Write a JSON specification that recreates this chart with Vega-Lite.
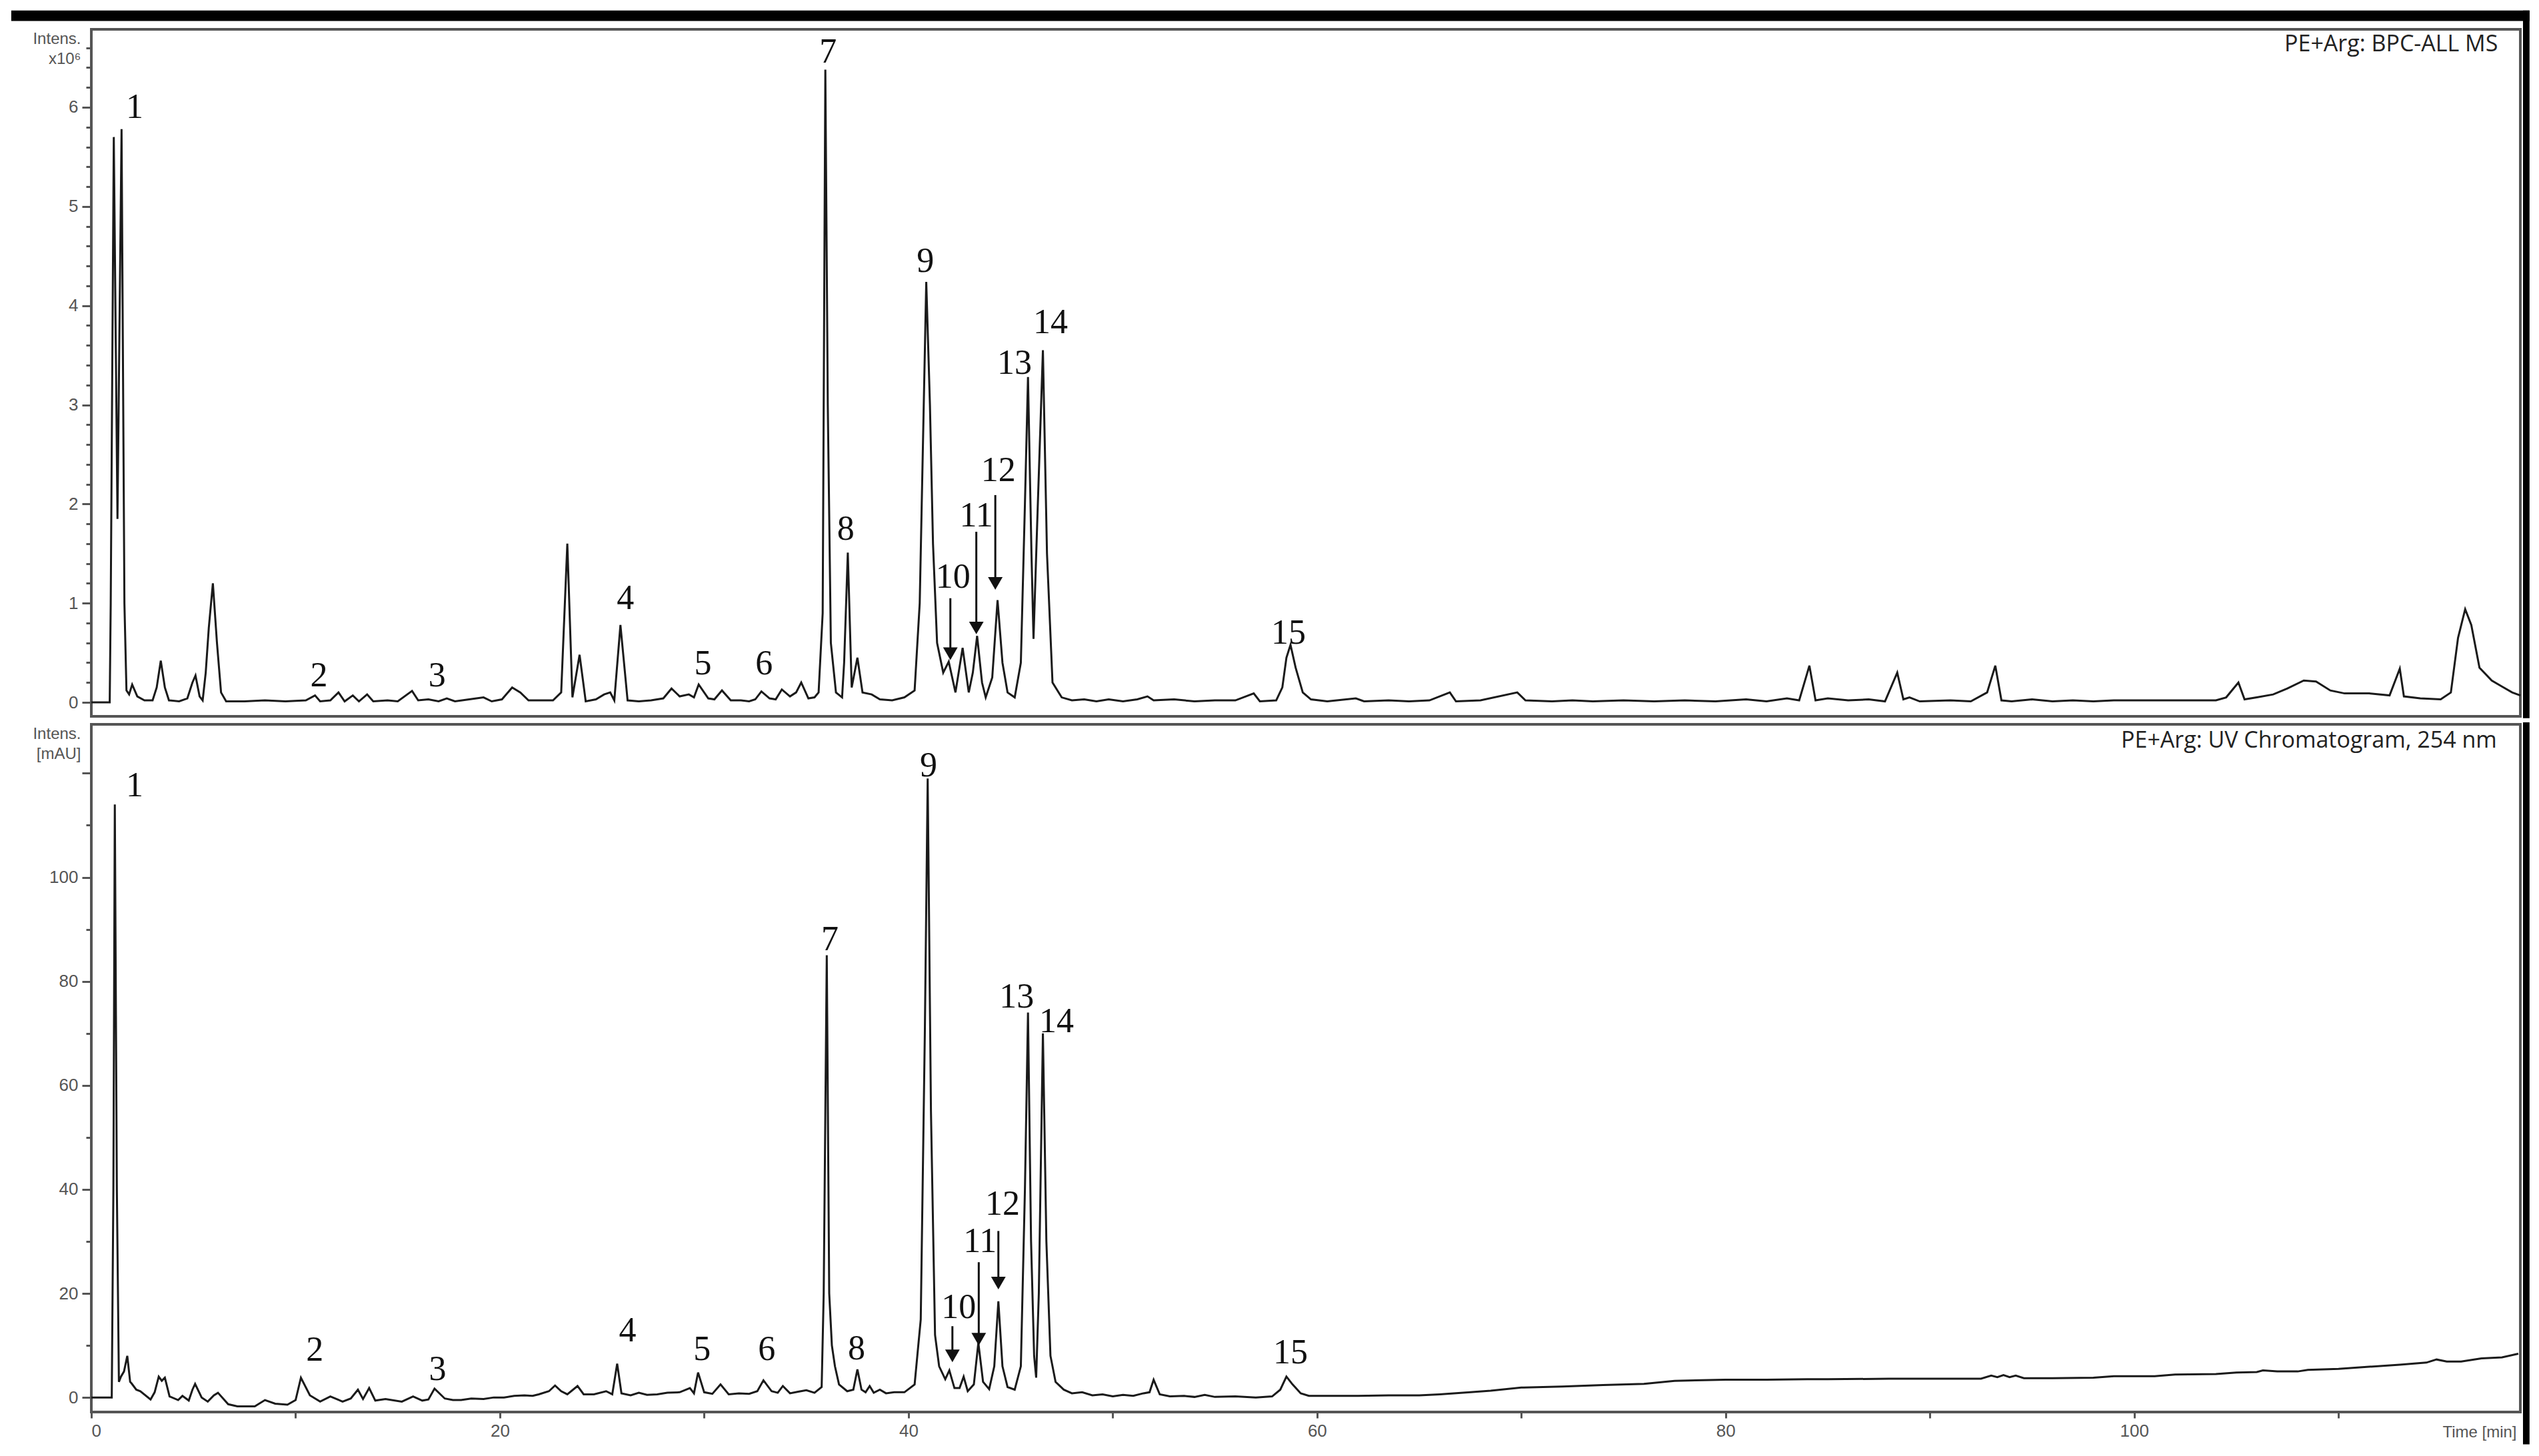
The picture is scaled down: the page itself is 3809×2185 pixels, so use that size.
{
  "$schema": "https://vega.github.io/schema/vega-lite/v6.json",
  "background": "white",
  "padding": {"left": 14, "top": 13, "right": 17, "bottom": 28},
  "spacing": 1,
  "datasets": {
    "ms": [
      {"t":0,"v":0},{"t":0.5,"v":0},{"t":0.9,"v":0},{"t":0.95,"v":1.0},{"t":1.1,"v":5.7},{"t":1.28,"v":1.85},{"t":1.48,"v":5.78},{"t":1.62,"v":1.0},{"t":1.72,"v":0.12},{"t":1.85,"v":0.08},{"t":2.0,"v":0.18},{"t":2.25,"v":0.06},{"t":2.6,"v":0.02},{"t":3.0,"v":0.02},{"t":3.2,"v":0.15},{"t":3.4,"v":0.42},{"t":3.6,"v":0.15},{"t":3.8,"v":0.02},{"t":4.3,"v":0.01},{"t":4.7,"v":0.04},{"t":4.95,"v":0.2},{"t":5.1,"v":0.27},{"t":5.3,"v":0.06},{"t":5.45,"v":0.02},{"t":5.6,"v":0.3},{"t":5.75,"v":0.75},{"t":5.95,"v":1.2},{"t":6.15,"v":0.6},{"t":6.35,"v":0.1},{"t":6.6,"v":0.01},{"t":7.5,"v":0.01},{"t":8.5,"v":0.02},{"t":9.5,"v":0.01},{"t":10.5,"v":0.02},{"t":10.95,"v":0.07},{"t":11.2,"v":0.01},{"t":11.7,"v":0.02},{"t":12.1,"v":0.1},{"t":12.4,"v":0.01},{"t":12.8,"v":0.07},{"t":13.1,"v":0.01},{"t":13.5,"v":0.08},{"t":13.8,"v":0.01},{"t":14.5,"v":0.02},{"t":15.0,"v":0.01},{"t":15.7,"v":0.115},{"t":16.0,"v":0.02},{"t":16.5,"v":0.03},{"t":17.0,"v":0.01},{"t":17.4,"v":0.04},{"t":17.8,"v":0.01},{"t":18.5,"v":0.03},{"t":19.2,"v":0.05},{"t":19.6,"v":0.01},{"t":20.1,"v":0.03},{"t":20.6,"v":0.15},{"t":21.0,"v":0.1},{"t":21.4,"v":0.02},{"t":22.0,"v":0.02},{"t":22.6,"v":0.02},{"t":23.0,"v":0.1},{"t":23.3,"v":1.6},{"t":23.55,"v":0.05},{"t":23.9,"v":0.48},{"t":24.2,"v":0.01},{"t":24.7,"v":0.03},{"t":25.1,"v":0.08},{"t":25.4,"v":0.1},{"t":25.6,"v":0.02},{"t":25.9,"v":0.78},{"t":26.25,"v":0.02},{"t":26.8,"v":0.01},{"t":27.4,"v":0.02},{"t":28.0,"v":0.04},{"t":28.4,"v":0.14},{"t":28.8,"v":0.06},{"t":29.25,"v":0.08},{"t":29.5,"v":0.05},{"t":29.73,"v":0.18},{"t":30.2,"v":0.04},{"t":30.5,"v":0.03},{"t":30.87,"v":0.12},{"t":31.3,"v":0.02},{"t":31.8,"v":0.02},{"t":32.2,"v":0.01},{"t":32.5,"v":0.03},{"t":32.8,"v":0.11},{"t":33.2,"v":0.04},{"t":33.5,"v":0.03},{"t":33.8,"v":0.13},{"t":34.2,"v":0.06},{"t":34.5,"v":0.1},{"t":34.75,"v":0.2},{"t":35.1,"v":0.04},{"t":35.4,"v":0.05},{"t":35.6,"v":0.1},{"t":35.8,"v":0.9},{"t":35.93,"v":6.38},{"t":36.05,"v":3.0},{"t":36.2,"v":0.6},{"t":36.45,"v":0.1},{"t":36.75,"v":0.05},{"t":36.85,"v":0.4},{"t":37.03,"v":1.51},{"t":37.22,"v":0.15},{"t":37.5,"v":0.45},{"t":37.75,"v":0.1},{"t":38.2,"v":0.08},{"t":38.6,"v":0.03},{"t":39.2,"v":0.02},{"t":39.8,"v":0.05},{"t":40.3,"v":0.12},{"t":40.55,"v":1.0},{"t":40.87,"v":4.24},{"t":41.05,"v":3.0},{"t":41.2,"v":1.6},{"t":41.4,"v":0.6},{"t":41.7,"v":0.3},{"t":41.97,"v":0.41},{"t":42.3,"v":0.1},{"t":42.65,"v":0.55},{"t":42.95,"v":0.1},{"t":43.15,"v":0.3},{"t":43.36,"v":0.67},{"t":43.6,"v":0.2},{"t":43.78,"v":0.05},{"t":44.1,"v":0.25},{"t":44.36,"v":1.03},{"t":44.6,"v":0.4},{"t":44.85,"v":0.1},{"t":45.2,"v":0.05},{"t":45.5,"v":0.4},{"t":45.7,"v":2.0},{"t":45.85,"v":3.28},{"t":46.02,"v":1.5},{"t":46.12,"v":0.64},{"t":46.3,"v":1.8},{"t":46.58,"v":3.55},{"t":46.78,"v":1.5},{"t":47.05,"v":0.2},{"t":47.5,"v":0.05},{"t":48.0,"v":0.02},{"t":48.6,"v":0.03},{"t":49.2,"v":0.01},{"t":49.8,"v":0.03},{"t":50.5,"v":0.01},{"t":51.2,"v":0.03},{"t":51.7,"v":0.06},{"t":52.0,"v":0.02},{"t":53.0,"v":0.03},{"t":54.0,"v":0.01},{"t":55.0,"v":0.02},{"t":56.0,"v":0.02},{"t":56.9,"v":0.09},{"t":57.2,"v":0.01},{"t":58.0,"v":0.02},{"t":58.3,"v":0.15},{"t":58.5,"v":0.45},{"t":58.7,"v":0.58},{"t":58.95,"v":0.35},{"t":59.3,"v":0.1},{"t":59.7,"v":0.03},{"t":60.5,"v":0.01},{"t":61.9,"v":0.04},{"t":62.3,"v":0.01},{"t":63.5,"v":0.02},{"t":64.5,"v":0.01},{"t":65.5,"v":0.02},{"t":66.5,"v":0.1},{"t":66.8,"v":0.01},{"t":68.0,"v":0.02},{"t":69.8,"v":0.1},{"t":70.2,"v":0.02},{"t":71.5,"v":0.01},{"t":72.5,"v":0.02},{"t":73.5,"v":0.01},{"t":75.0,"v":0.02},{"t":76.5,"v":0.01},{"t":78.0,"v":0.02},{"t":79.5,"v":0.01},{"t":81.0,"v":0.03},{"t":82.0,"v":0.01},{"t":83.0,"v":0.04},{"t":83.6,"v":0.02},{"t":84.1,"v":0.37},{"t":84.4,"v":0.02},{"t":85.0,"v":0.04},{"t":86.0,"v":0.02},{"t":87.0,"v":0.03},{"t":87.8,"v":0.01},{"t":88.4,"v":0.3},{"t":88.7,"v":0.03},{"t":89.0,"v":0.05},{"t":89.5,"v":0.01},{"t":91.0,"v":0.02},{"t":92.0,"v":0.01},{"t":92.8,"v":0.1},{"t":93.2,"v":0.37},{"t":93.5,"v":0.02},{"t":94.0,"v":0.01},{"t":95.0,"v":0.03},{"t":96.0,"v":0.01},{"t":97.0,"v":0.02},{"t":98.0,"v":0.01},{"t":99.0,"v":0.02},{"t":104.0,"v":0.02},{"t":104.5,"v":0.05},{"t":105.1,"v":0.2},{"t":105.4,"v":0.03},{"t":106.0,"v":0.05},{"t":106.8,"v":0.08},{"t":107.5,"v":0.14},{"t":108.3,"v":0.22},{"t":108.9,"v":0.21},{"t":109.6,"v":0.12},{"t":110.3,"v":0.09},{"t":111.5,"v":0.09},{"t":112.5,"v":0.07},{"t":113.0,"v":0.34},{"t":113.2,"v":0.06},{"t":114.0,"v":0.04},{"t":115.0,"v":0.03},{"t":115.5,"v":0.1},{"t":115.85,"v":0.65},{"t":116.2,"v":0.94},{"t":116.5,"v":0.78},{"t":116.9,"v":0.35},{"t":117.5,"v":0.22},{"t":118.0,"v":0.16},{"t":118.5,"v":0.1},{"t":118.9,"v":0.07}
    ],
    "uv": [
      {"t":0,"v":0},{"t":0.5,"v":0},{"t":1.0,"v":0},{"t":1.08,"v":40},{"t":1.15,"v":114},{"t":1.25,"v":40},{"t":1.35,"v":3},{"t":1.45,"v":4},{"t":1.6,"v":5},{"t":1.76,"v":8},{"t":1.9,"v":3},{"t":1.97,"v":2.7},{"t":2.2,"v":1.5},{"t":2.4,"v":1.2},{"t":2.9,"v":-0.4},{"t":3.1,"v":1},{"t":3.3,"v":4},{"t":3.45,"v":3.2},{"t":3.6,"v":3.8},{"t":3.83,"v":0.2},{"t":4.25,"v":-0.5},{"t":4.46,"v":0.3},{"t":4.77,"v":-0.6},{"t":4.95,"v":1.5},{"t":5.08,"v":2.6},{"t":5.4,"v":0},{"t":5.7,"v":-0.8},{"t":6.0,"v":0.4},{"t":6.2,"v":0.9},{"t":6.7,"v":-1.3},{"t":7.15,"v":-1.7},{"t":8.0,"v":-1.7},{"t":8.5,"v":-0.5},{"t":9.0,"v":-1.2},{"t":9.6,"v":-1.4},{"t":10.0,"v":-0.5},{"t":10.26,"v":3.8},{"t":10.7,"v":0.4},{"t":11.2,"v":-0.8},{"t":11.7,"v":0.2},{"t":12.3,"v":-0.8},{"t":12.7,"v":-0.2},{"t":13.05,"v":1.5},{"t":13.3,"v":-0.3},{"t":13.6,"v":1.8},{"t":13.9,"v":-0.6},{"t":14.4,"v":-0.3},{"t":15.2,"v":-0.8},{"t":15.75,"v":0.2},{"t":16.2,"v":-0.6},{"t":16.5,"v":-0.4},{"t":16.8,"v":1.7},{"t":17.3,"v":-0.2},{"t":17.7,"v":-0.5},{"t":18.1,"v":-0.5},{"t":18.6,"v":-0.2},{"t":19.2,"v":-0.3},{"t":19.7,"v":0},{"t":20.2,"v":0},{"t":20.7,"v":0.3},{"t":21.2,"v":0.4},{"t":21.6,"v":0.3},{"t":21.9,"v":0.6},{"t":22.4,"v":1.2},{"t":22.7,"v":2.3},{"t":23.0,"v":1.2},{"t":23.3,"v":0.6},{"t":23.8,"v":2.2},{"t":24.1,"v":0.6},{"t":24.6,"v":0.6},{"t":25.2,"v":1.2},{"t":25.5,"v":0.6},{"t":25.74,"v":6.5},{"t":25.95,"v":0.8},{"t":26.4,"v":0.4},{"t":26.8,"v":0.9},{"t":27.2,"v":0.5},{"t":27.7,"v":0.6},{"t":28.2,"v":0.9},{"t":28.8,"v":1.0},{"t":29.3,"v":1.8},{"t":29.5,"v":0.8},{"t":29.7,"v":4.8},{"t":30.0,"v":1.0},{"t":30.4,"v":0.7},{"t":30.8,"v":2.5},{"t":31.2,"v":0.6},{"t":31.7,"v":0.8},{"t":32.2,"v":0.7},{"t":32.6,"v":1.2},{"t":32.9,"v":3.3},{"t":33.3,"v":1.2},{"t":33.6,"v":0.9},{"t":33.85,"v":2.2},{"t":34.2,"v":0.8},{"t":34.6,"v":1.1},{"t":35.0,"v":1.4},{"t":35.4,"v":0.9},{"t":35.75,"v":2.0},{"t":35.85,"v":20},{"t":36.0,"v":85},{"t":36.12,"v":20},{"t":36.25,"v":10},{"t":36.4,"v":6},{"t":36.6,"v":2.5},{"t":37.0,"v":1.2},{"t":37.3,"v":1.5},{"t":37.5,"v":5.4},{"t":37.7,"v":1.5},{"t":37.9,"v":1.0},{"t":38.1,"v":2.2},{"t":38.3,"v":0.9},{"t":38.6,"v":1.5},{"t":38.9,"v":0.8},{"t":39.3,"v":1.0},{"t":39.8,"v":1.0},{"t":40.3,"v":2.5},{"t":40.6,"v":15},{"t":40.8,"v":70},{"t":40.94,"v":119},{"t":41.1,"v":55},{"t":41.3,"v":12},{"t":41.5,"v":6},{"t":41.8,"v":3.5},{"t":42.0,"v":5.2},{"t":42.25,"v":1.8},{"t":42.5,"v":1.8},{"t":42.7,"v":4.0},{"t":42.9,"v":1.2},{"t":43.2,"v":2.5},{"t":43.42,"v":10.5},{"t":43.65,"v":3.0},{"t":43.95,"v":1.6},{"t":44.2,"v":6},{"t":44.4,"v":18.5},{"t":44.6,"v":6},{"t":44.85,"v":2.0},{"t":45.2,"v":1.5},{"t":45.5,"v":6},{"t":45.7,"v":40},{"t":45.85,"v":74},{"t":46.0,"v":30},{"t":46.15,"v":8},{"t":46.25,"v":3.8},{"t":46.38,"v":20},{"t":46.58,"v":70},{"t":46.75,"v":30},{"t":46.95,"v":8},{"t":47.2,"v":3},{"t":47.6,"v":1.5},{"t":48.0,"v":0.8},{"t":48.5,"v":1.0},{"t":49.0,"v":0.4},{"t":49.5,"v":0.6},{"t":50.0,"v":0.2},{"t":50.5,"v":0.5},{"t":51.0,"v":0.3},{"t":51.5,"v":0.8},{"t":51.8,"v":1.0},{"t":52.0,"v":3.4},{"t":52.3,"v":0.6},{"t":52.8,"v":0.2},{"t":53.5,"v":0.3},{"t":54.0,"v":0.1},{"t":54.5,"v":0.5},{"t":55.0,"v":0.1},{"t":56.0,"v":0.2},{"t":57.0,"v":0},{"t":57.8,"v":0.2},{"t":58.2,"v":1.5},{"t":58.5,"v":4.0},{"t":58.8,"v":2.5},{"t":59.2,"v":0.8},{"t":59.6,"v":0.3},{"t":60.5,"v":0.3},{"t":62.0,"v":0.3},{"t":63.5,"v":0.4},{"t":65.0,"v":0.4},{"t":66.0,"v":0.6},{"t":67.5,"v":1.0},{"t":68.5,"v":1.3},{"t":70.0,"v":1.9},{"t":72.0,"v":2.1},{"t":74.0,"v":2.4},{"t":76.0,"v":2.6},{"t":77.5,"v":3.2},{"t":80.0,"v":3.4},{"t":82.0,"v":3.4},{"t":84.0,"v":3.5},{"t":85.0,"v":3.5},{"t":88.0,"v":3.6},{"t":90.0,"v":3.6},{"t":92.5,"v":3.6},{"t":93.0,"v":4.2},{"t":93.3,"v":3.9},{"t":93.6,"v":4.3},{"t":93.9,"v":3.9},{"t":94.2,"v":4.2},{"t":94.6,"v":3.7},{"t":96.0,"v":3.7},{"t":98.0,"v":3.8},{"t":99.0,"v":4.1},{"t":101.0,"v":4.1},{"t":102.0,"v":4.4},{"t":104.0,"v":4.5},{"t":105.0,"v":4.8},{"t":106.0,"v":4.9},{"t":106.3,"v":5.2},{"t":107.0,"v":5.0},{"t":108.0,"v":5.0},{"t":108.5,"v":5.3},{"t":110.0,"v":5.5},{"t":111.5,"v":5.9},{"t":113.0,"v":6.3},{"t":114.3,"v":6.7},{"t":114.8,"v":7.3},{"t":115.3,"v":6.9},{"t":116.0,"v":6.9},{"t":117.0,"v":7.5},{"t":118.0,"v":7.7},{"t":118.8,"v":8.4}
    ],
    "ms_labels": [
      {"t":2.12,"v":6.0,"label":"1"},{"t":11.14,"v":0.27,"label":"2"},{"t":16.93,"v":0.27,"label":"3"},{"t":26.14,"v":1.05,"label":"4"},{"t":29.94,"v":0.39,"label":"5"},{"t":32.93,"v":0.39,"label":"6"},{"t":36.06,"v":6.56,"label":"7"},{"t":36.93,"v":1.75,"label":"8"},{"t":40.83,"v":4.45,"label":"9"},{"t":42.18,"v":1.26,"label":"10"},{"t":43.32,"v":1.88,"label":"11"},{"t":44.4,"v":2.34,"label":"12"},{"t":45.19,"v":3.42,"label":"13"},{"t":46.95,"v":3.83,"label":"14"},{"t":58.6,"v":0.7,"label":"15"}
    ],
    "uv_labels": [
      {"t":2.12,"v":117.6,"label":"1"},{"t":10.94,"v":9.05,"label":"2"},{"t":16.95,"v":5.35,"label":"3"},{"t":26.25,"v":12.8,"label":"4"},{"t":29.9,"v":9.2,"label":"5"},{"t":33.06,"v":9.2,"label":"6"},{"t":36.15,"v":88,"label":"7"},{"t":37.46,"v":9.4,"label":"8"},{"t":40.98,"v":121.4,"label":"9"},{"t":42.46,"v":17.3,"label":"10"},{"t":43.5,"v":30,"label":"11"},{"t":44.6,"v":37.2,"label":"12"},{"t":45.3,"v":77,"label":"13"},{"t":47.25,"v":72.3,"label":"14"},{"t":58.7,"v":8.6,"label":"15"}
    ],
    "ms_arrows": [
      {"t":42.05,"top":1.05,"head":0.49},{"t":43.32,"top":1.72,"head":0.75},{"t":44.25,"top":2.09,"head":1.2}
    ],
    "uv_arrows": [
      {"t":42.15,"top":13.7,"head":8},{"t":43.44,"top":26,"head":11.2},{"t":44.4,"top":32,"head":22}
    ],
    "panel_ms": [{"name": "PE+Arg: BPC-ALL MS"}],
    "panel_uv": [{"name": "PE+Arg: UV Chromatogram, 254 nm"}]
  },
  "vconcat": [
    {
      "width": 3644,
      "height": 1031,
      "layer": [
        {
          "data": {"name": "ms"},
          "mark": {"type": "line", "color": "#1a1a1a", "strokeWidth": 3, "interpolate": "linear"},
          "encoding": {
            "x": {"field": "t", "type": "quantitative", "scale": {"domain": [0, 118.9], "nice": false, "zero": false}, "axis": null},
            "y": {"field": "v", "type": "quantitative", "scale": {"domain": [-0.141, 6.786], "nice": false, "zero": false},
              "axis": {"title": ["Intens.", "x10⁶"], "values": [0,0.2,0.4,0.6,0.8,1,1.2,1.4,1.6,1.8,2,2.2,2.4,2.6,2.8,3,3.2,3.4,3.6,3.8,4,4.2,4.4,4.6,4.8,5,5.2,5.4,5.6,5.8,6,6.2,6.4,6.6], "labelOverlap": false, "labelExpr": "abs(datum.value - round(datum.value)) < 0.01 ? '' + round(datum.value) : ''", "tickSize": {"condition": {"test": "abs(datum.value - round(datum.value)) < 0.01", "value": 14}, "value": 8}}}
          }
        },
        {
          "data": {"name": "panel_ms"},
          "mark": {"type": "rect", "color": "black", "clip": false},
          "encoding": {
            "x": {"datum": -3.92, "axis": null}, "x2": {"datum": 119.35},
            "y": {"datum": 6.87, "axis": {"title": ["Intens.", "x10⁶"], "values": [0,0.2,0.4,0.6,0.8,1,1.2,1.4,1.6,1.8,2,2.2,2.4,2.6,2.8,3,3.2,3.4,3.6,3.8,4,4.2,4.4,4.6,4.8,5,5.2,5.4,5.6,5.8,6,6.2,6.4,6.6], "labelOverlap": false, "labelExpr": "abs(datum.value - round(datum.value)) < 0.01 ? '' + round(datum.value) : ''", "tickSize": {"condition": {"test": "abs(datum.value - round(datum.value)) < 0.01", "value": 14}, "value": 8}}},
            "y2": {"datum": 6.975}
          }
        },
        {
          "data": {"name": "panel_ms"},
          "mark": {"type": "rect", "color": "black", "clip": false},
          "encoding": {
            "x": {"datum": 119.03, "axis": null}, "x2": {"datum": 119.35},
            "y": {"datum": 6.975, "axis": {"title": ["Intens.", "x10⁶"], "values": [0,0.2,0.4,0.6,0.8,1,1.2,1.4,1.6,1.8,2,2.2,2.4,2.6,2.8,3,3.2,3.4,3.6,3.8,4,4.2,4.4,4.6,4.8,5,5.2,5.4,5.6,5.8,6,6.2,6.4,6.6], "labelOverlap": false, "labelExpr": "abs(datum.value - round(datum.value)) < 0.01 ? '' + round(datum.value) : ''", "tickSize": {"condition": {"test": "abs(datum.value - round(datum.value)) < 0.01", "value": 14}, "value": 8}}},
            "y2": {"datum": -0.16}
          }
        },
        {
          "data": {"name": "ms_arrows"},
          "mark": {"type": "rule", "color": "#111", "strokeWidth": 3},
          "encoding": {
            "x": {"field": "t", "type": "quantitative", "axis": null},
            "y": {"field": "top", "type": "quantitative", "axis": {"title": ["Intens.", "x10⁶"], "values": [0,0.2,0.4,0.6,0.8,1,1.2,1.4,1.6,1.8,2,2.2,2.4,2.6,2.8,3,3.2,3.4,3.6,3.8,4,4.2,4.4,4.6,4.8,5,5.2,5.4,5.6,5.8,6,6.2,6.4,6.6], "labelOverlap": false, "labelExpr": "abs(datum.value - round(datum.value)) < 0.01 ? '' + round(datum.value) : ''", "tickSize": {"condition": {"test": "abs(datum.value - round(datum.value)) < 0.01", "value": 14}, "value": 8}}},
            "y2": {"field": "head"}
          }
        },
        {
          "data": {"name": "ms_arrows"},
          "mark": {"type": "point", "shape": "triangle-down", "filled": true, "color": "#111", "size": 480, "opacity": 1},
          "encoding": {
            "x": {"field": "t", "type": "quantitative", "axis": null},
            "y": {"field": "head", "type": "quantitative", "axis": {"title": ["Intens.", "x10⁶"], "values": [0,0.2,0.4,0.6,0.8,1,1.2,1.4,1.6,1.8,2,2.2,2.4,2.6,2.8,3,3.2,3.4,3.6,3.8,4,4.2,4.4,4.6,4.8,5,5.2,5.4,5.6,5.8,6,6.2,6.4,6.6], "labelOverlap": false, "labelExpr": "abs(datum.value - round(datum.value)) < 0.01 ? '' + round(datum.value) : ''", "tickSize": {"condition": {"test": "abs(datum.value - round(datum.value)) < 0.01", "value": 14}, "value": 8}}}
          }
        },
        {
          "data": {"name": "ms_labels"},
          "mark": {"type": "text", "font": "Liberation Serif", "fontSize": 52, "color": "#111", "align": "center", "baseline": "middle"},
          "encoding": {
            "x": {"field": "t", "type": "quantitative", "axis": null},
            "y": {"field": "v", "type": "quantitative", "axis": {"title": ["Intens.", "x10⁶"], "values": [0,0.2,0.4,0.6,0.8,1,1.2,1.4,1.6,1.8,2,2.2,2.4,2.6,2.8,3,3.2,3.4,3.6,3.8,4,4.2,4.4,4.6,4.8,5,5.2,5.4,5.6,5.8,6,6.2,6.4,6.6], "labelOverlap": false, "labelExpr": "abs(datum.value - round(datum.value)) < 0.01 ? '' + round(datum.value) : ''", "tickSize": {"condition": {"test": "abs(datum.value - round(datum.value)) < 0.01", "value": 14}, "value": 8}}},
            "text": {"field": "label"}
          }
        },
        {
          "data": {"name": "panel_ms"},
          "mark": {"type": "text", "font": "Open Sans", "fontSize": 34, "color": "#222", "align": "right", "baseline": "middle"},
          "encoding": {
            "x": {"datum": 117.8, "axis": null},
            "y": {"datum": 6.63, "axis": {"title": ["Intens.", "x10⁶"], "values": [0,0.2,0.4,0.6,0.8,1,1.2,1.4,1.6,1.8,2,2.2,2.4,2.6,2.8,3,3.2,3.4,3.6,3.8,4,4.2,4.4,4.6,4.8,5,5.2,5.4,5.6,5.8,6,6.2,6.4,6.6], "labelOverlap": false, "labelExpr": "abs(datum.value - round(datum.value)) < 0.01 ? '' + round(datum.value) : ''", "tickSize": {"condition": {"test": "abs(datum.value - round(datum.value)) < 0.01", "value": 14}, "value": 8}}},
            "text": {"field": "name"}
          }
        }
      ]
    },
    {
      "width": 3644,
      "height": 1032,
      "layer": [
        {
          "data": {"name": "uv"},
          "mark": {"type": "line", "color": "#1a1a1a", "strokeWidth": 3, "interpolate": "linear"},
          "encoding": {
            "x": {"field": "t", "type": "quantitative", "scale": {"domain": [0, 118.9], "nice": false, "zero": false},
              "axis": {"title": "Time [min]", "values": [0,10,20,30,40,50,60,70,80,90,100,110], "labelOverlap": false, "labelExpr": "datum.value % 20 === 0 ? '' + datum.value : ''", "titleAnchor": "end", "titleAlign": "right", "titleX": 3638, "titleY": 30, "titleBaseline": "middle", "tickSize": 9, "labelPadding": 6}},
            "y": {"field": "v", "type": "quantitative", "scale": {"domain": [-2.8, 129.4], "nice": false, "zero": false},
              "axis": {"title": ["Intens.", "[mAU]"], "values": [0,10,20,30,40,50,60,70,80,90,100,110,120], "labelOverlap": false, "labelExpr": "datum.value % 20 === 0 && datum.value <= 100 ? '' + datum.value : ''", "tickSize": {"condition": {"test": "datum.value % 20 === 0", "value": 14}, "value": 8}}}
          }
        },
        {
          "data": {"name": "panel_uv"},
          "mark": {"type": "rect", "color": "black", "clip": false},
          "encoding": {
            "x": {"datum": 119.03, "axis": {"title": "Time [min]", "values": [0,10,20,30,40,50,60,70,80,90,100,110], "labelOverlap": false, "labelExpr": "datum.value % 20 === 0 ? '' + datum.value : ''", "titleAnchor": "end", "titleAlign": "right", "titleX": 3638, "titleY": 30, "titleBaseline": "middle", "tickSize": 9, "labelPadding": 6}},
            "x2": {"datum": 119.35},
            "y": {"datum": 129.8, "axis": {"title": ["Intens.", "[mAU]"], "values": [0,10,20,30,40,50,60,70,80,90,100,110,120], "labelOverlap": false, "labelExpr": "datum.value % 20 === 0 && datum.value <= 100 ? '' + datum.value : ''", "tickSize": {"condition": {"test": "datum.value % 20 === 0", "value": 14}, "value": 8}}},
            "y2": {"datum": -9}
          }
        },
        {
          "data": {"name": "uv_arrows"},
          "mark": {"type": "rule", "color": "#111", "strokeWidth": 3},
          "encoding": {
            "x": {"field": "t", "type": "quantitative", "axis": {"title": "Time [min]", "values": [0,10,20,30,40,50,60,70,80,90,100,110], "labelOverlap": false, "labelExpr": "datum.value % 20 === 0 ? '' + datum.value : ''", "titleAnchor": "end", "titleAlign": "right", "titleX": 3638, "titleY": 30, "titleBaseline": "middle", "tickSize": 9, "labelPadding": 6}},
            "y": {"field": "top", "type": "quantitative", "axis": {"title": ["Intens.", "[mAU]"], "values": [0,10,20,30,40,50,60,70,80,90,100,110,120], "labelOverlap": false, "labelExpr": "datum.value % 20 === 0 && datum.value <= 100 ? '' + datum.value : ''", "tickSize": {"condition": {"test": "datum.value % 20 === 0", "value": 14}, "value": 8}}},
            "y2": {"field": "head"}
          }
        },
        {
          "data": {"name": "uv_arrows"},
          "mark": {"type": "point", "shape": "triangle-down", "filled": true, "color": "#111", "size": 480, "opacity": 1},
          "encoding": {
            "x": {"field": "t", "type": "quantitative", "axis": {"title": "Time [min]", "values": [0,10,20,30,40,50,60,70,80,90,100,110], "labelOverlap": false, "labelExpr": "datum.value % 20 === 0 ? '' + datum.value : ''", "titleAnchor": "end", "titleAlign": "right", "titleX": 3638, "titleY": 30, "titleBaseline": "middle", "tickSize": 9, "labelPadding": 6}},
            "y": {"field": "head", "type": "quantitative", "axis": {"title": ["Intens.", "[mAU]"], "values": [0,10,20,30,40,50,60,70,80,90,100,110,120], "labelOverlap": false, "labelExpr": "datum.value % 20 === 0 && datum.value <= 100 ? '' + datum.value : ''", "tickSize": {"condition": {"test": "datum.value % 20 === 0", "value": 14}, "value": 8}}}
          }
        },
        {
          "data": {"name": "uv_labels"},
          "mark": {"type": "text", "font": "Liberation Serif", "fontSize": 52, "color": "#111", "align": "center", "baseline": "middle"},
          "encoding": {
            "x": {"field": "t", "type": "quantitative", "axis": {"title": "Time [min]", "values": [0,10,20,30,40,50,60,70,80,90,100,110], "labelOverlap": false, "labelExpr": "datum.value % 20 === 0 ? '' + datum.value : ''", "titleAnchor": "end", "titleAlign": "right", "titleX": 3638, "titleY": 30, "titleBaseline": "middle", "tickSize": 9, "labelPadding": 6}},
            "y": {"field": "v", "type": "quantitative", "axis": {"title": ["Intens.", "[mAU]"], "values": [0,10,20,30,40,50,60,70,80,90,100,110,120], "labelOverlap": false, "labelExpr": "datum.value % 20 === 0 && datum.value <= 100 ? '' + datum.value : ''", "tickSize": {"condition": {"test": "datum.value % 20 === 0", "value": 14}, "value": 8}}},
            "text": {"field": "label"}
          }
        },
        {
          "data": {"name": "panel_uv"},
          "mark": {"type": "text", "font": "Open Sans", "fontSize": 34, "color": "#222", "align": "right", "baseline": "middle"},
          "encoding": {
            "x": {"datum": 117.75, "axis": {"title": "Time [min]", "values": [0,10,20,30,40,50,60,70,80,90,100,110], "labelOverlap": false, "labelExpr": "datum.value % 20 === 0 ? '' + datum.value : ''", "titleAnchor": "end", "titleAlign": "right", "titleX": 3638, "titleY": 30, "titleBaseline": "middle", "tickSize": 9, "labelPadding": 6}},
            "y": {"datum": 126.2, "axis": {"title": ["Intens.", "[mAU]"], "values": [0,10,20,30,40,50,60,70,80,90,100,110,120], "labelOverlap": false, "labelExpr": "datum.value % 20 === 0 && datum.value <= 100 ? '' + datum.value : ''", "tickSize": {"condition": {"test": "datum.value % 20 === 0", "value": 14}, "value": 8}}},
            "text": {"field": "name"}
          }
        }
      ]
    }
  ],
  "config": {
    "view": {"stroke": "#555", "strokeWidth": 4, "fill": "white"},
    "axis": {
      "grid": false,
      "domain": false,
      "tickColor": "#555",
      "tickWidth": 3,
      "labelFont": "Liberation Sans",
      "labelFontSize": 26,
      "labelColor": "#555",
      "labelPadding": 6,
      "labelOverlap": false,
      "labelBound": false,
      "titleFont": "Liberation Sans",
      "titleFontSize": 24,
      "titleFontWeight": "normal",
      "titleColor": "#555"
    },
    "axisY": {
      "titleAngle": 0,
      "titleAlign": "right",
      "titleBaseline": "top",
      "titleX": -16,
      "titleY": 2,
      "titleLineHeight": 30
    }
  }
}
